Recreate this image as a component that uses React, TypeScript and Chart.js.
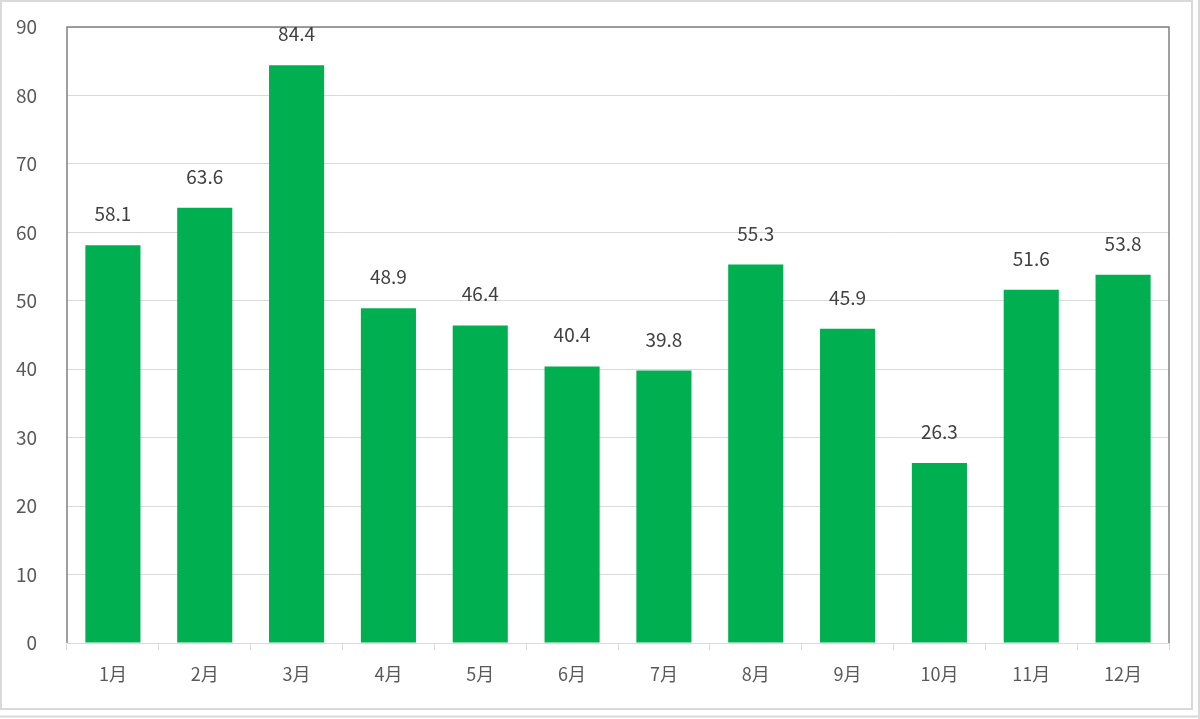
import React, { useEffect, useRef } from "react";
import { Chart, registerables } from "chart.js";

Chart.register(...registerables);

const categories = ["1月", "2月", "3月", "4月", "5月", "6月", "7月", "8月", "9月", "10月", "11月", "12月"];
const values = [58.1, 63.6, 84.4, 48.9, 46.4, 40.4, 39.8, 55.3, 45.9, 26.3, 51.6, 53.8];
const yTicks = [0, 10, 20, 30, 40, 50, 60, 70, 80, 90];

const FONT = "'Noto Sans CJK JP', 'Noto Sans', sans-serif";

const framePlugin = {
  id: "frame",
  beforeDraw(chart: any) {
    const ctx = chart.ctx;
    ctx.save();
    ctx.fillStyle = "#ffffff";
    ctx.fillRect(0, 0, chart.width, chart.height);
    ctx.strokeStyle = "#d9d9d9";
    ctx.lineWidth = 2;
    ctx.strokeRect(1, 1, 1191, 708);
    ctx.beginPath();
    ctx.moveTo(1199, 0);
    ctx.lineTo(1199, 719);
    ctx.moveTo(0, 716.5);
    ctx.lineTo(1200, 716.5);
    ctx.stroke();
    ctx.restore();
  },
  afterDatasetsDraw(chart: any) {
    const ctx = chart.ctx;
    const a = chart.chartArea;
    ctx.save();
    ctx.strokeStyle = "#808080";
    ctx.lineWidth = 1.5;
    ctx.beginPath();
    ctx.moveTo(a.left, a.bottom);
    ctx.lineTo(a.left, a.top);
    ctx.lineTo(a.right, a.top);
    ctx.lineTo(a.right, a.bottom);
    ctx.stroke();
    // data labels
    ctx.fillStyle = "#404040";
    ctx.font = "19px " + FONT;
    ctx.textAlign = "center";
    ctx.textBaseline = "alphabetic";
    const meta = chart.getDatasetMeta(0);
    meta.data.forEach((bar: any, i: number) => {
      ctx.fillText(values[i].toFixed(1), bar.x, bar.y - 24);
    });
    ctx.restore();
  },
};

export default function App() {
  const ref = useRef<HTMLCanvasElement | null>(null);
  useEffect(() => {
    document.body.style.margin = "0";
    const chart = new Chart(ref.current as HTMLCanvasElement, {
      type: "bar",
      data: {
        labels: categories,
        datasets: [
          {
            data: values,
            backgroundColor: "#00b050",
            barPercentage: 0.6,
            categoryPercentage: 1,
          },
        ],
      },
      options: {
        animation: false,
        responsive: false,
        maintainAspectRatio: false,
        layout: { padding: { top: 27, right: 31, left: 0, bottom: 0 } },
        plugins: { legend: { display: false }, tooltip: { enabled: false } },
        scales: {
          x: {
            afterFit: (s: any) => {
              s.height = 76;
              s.paddingLeft = 0;
              s.paddingRight = 0;
            },
            grid: {
              offset: true,
              drawOnChartArea: false,
              drawTicks: true,
              tickLength: 7,
              color: "#d9d9d9",
            },
            border: { display: true, color: "#d9d9d9", width: 1 },
            ticks: {
              color: "#595959",
              font: { size: 18, family: FONT },
              padding: 13,
              maxRotation: 0,
            },
          },
          y: {
            min: 0,
            max: 90,
            afterFit: (s: any) => {
              s.width = 67;
              s.paddingTop = 0;
              s.paddingBottom = 0;
            },
            afterBuildTicks: (s: any) => {
              s.ticks = yTicks.map((v) => ({ value: v }));
            },
            grid: { color: "#d9d9d9", drawTicks: false, lineWidth: 1 },
            border: { display: false },
            ticks: {
              color: "#595959",
              font: { size: 19, family: FONT },
              padding: 30,
            },
          },
        },
      },
      plugins: [framePlugin],
    });
    return () => chart.destroy();
  }, []);
  return (
    <div style={{ width: 1200, height: 719 }}>
      <canvas ref={ref} width={1200} height={719} style={{ display: "block" }} />
    </div>
  );
}
